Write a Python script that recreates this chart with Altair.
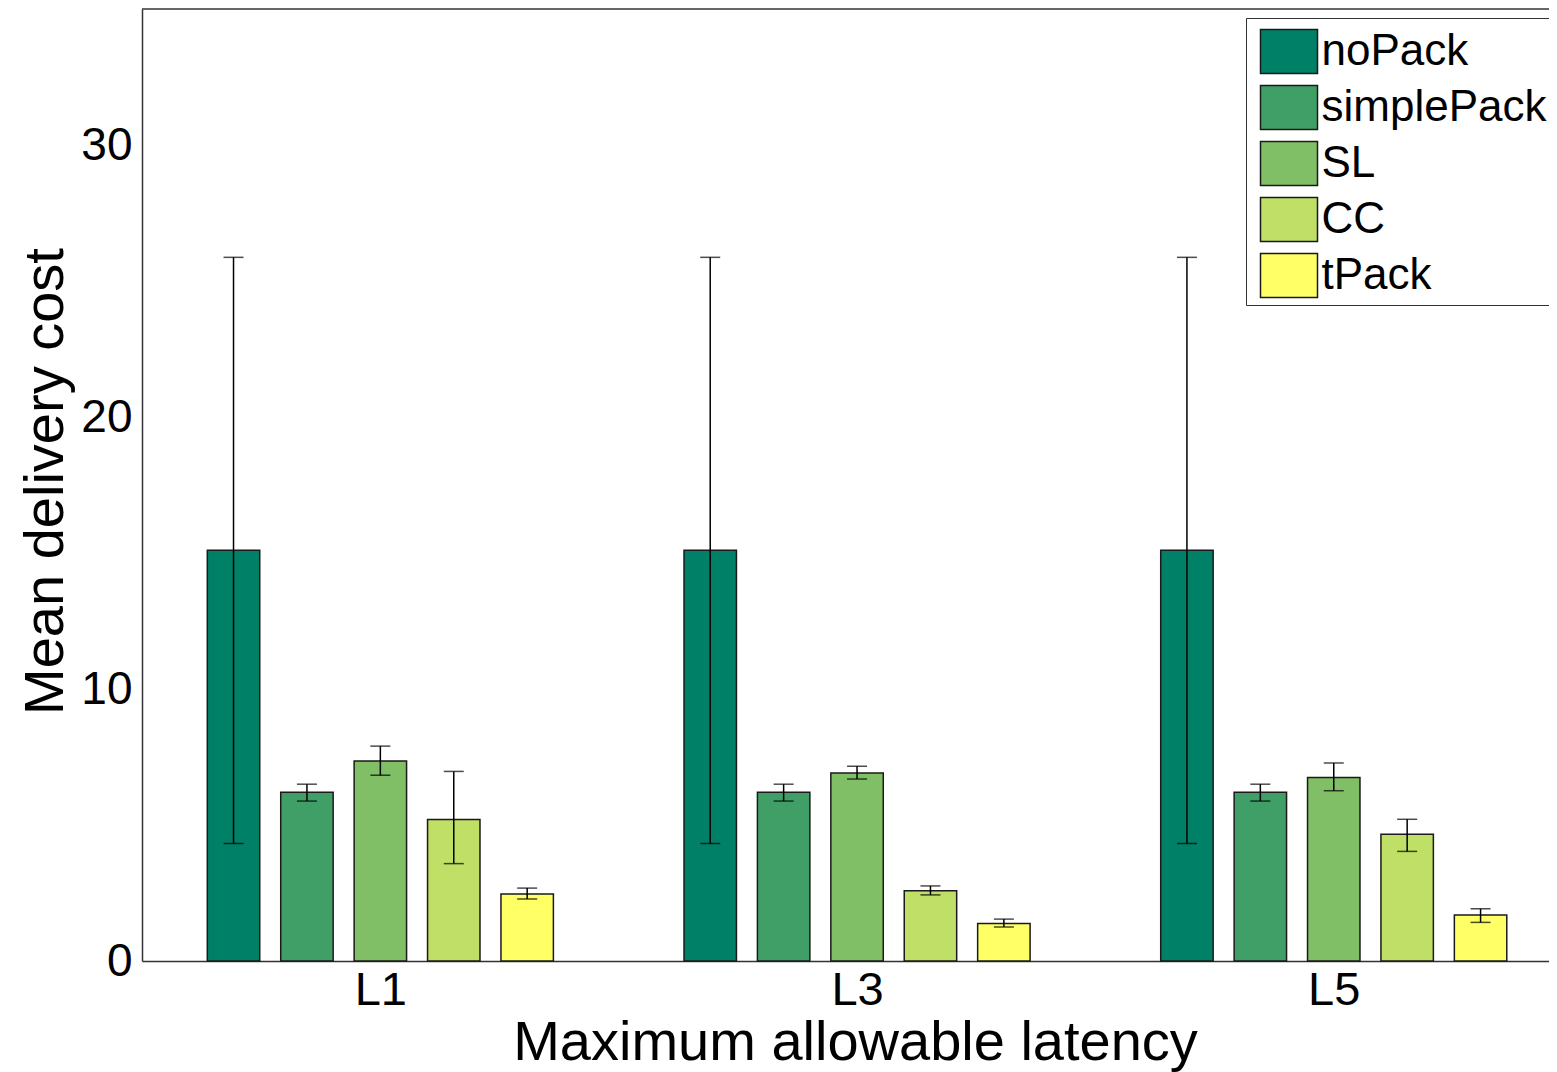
import altair as alt
import pandas as pd

groups = ["L1", "L3", "L5"]
series = ["noPack", "simplePack", "SL", "CC", "tPack"]
colors = ["#008066", "#409F66", "#80BF66", "#BFDF66", "#FFFF66"]

mean_noPack = [15.1, 15.1, 15.1]
mean_simplePack = [6.2, 6.2, 6.2]
mean_SL = [7.35, 6.91, 6.75]
mean_CC = [5.2, 2.58, 4.66]
mean_tPack = [2.46, 1.38, 1.69]

lo_noPack = [4.32, 4.32, 4.32]
lo_simplePack = [5.88, 5.88, 5.88]
lo_SL = [6.83, 6.69, 6.26]
lo_CC = [3.58, 2.43, 4.03]
lo_tPack = [2.28, 1.25, 1.42]

hi_noPack = [25.87, 25.87, 25.87]
hi_simplePack = [6.5, 6.5, 6.5]
hi_SL = [7.90, 7.16, 7.28]
hi_CC = [6.97, 2.76, 5.21]
hi_tPack = [2.68, 1.54, 1.92]

means = [mean_noPack, mean_simplePack, mean_SL, mean_CC, mean_tPack]
los = [lo_noPack, lo_simplePack, lo_SL, lo_CC, lo_tPack]
his = [hi_noPack, hi_simplePack, hi_SL, hi_CC, hi_tPack]

# layout parameters (data units of the group axis)
BAR_PITCH = 0.154
BAR_HALF = 0.055

rows = []
for si, s in enumerate(series):
    for gi, g in enumerate(groups):
        pos = (gi + 1) + (si - 2) * BAR_PITCH
        rows.append(dict(group=g, series=s, order=si, pos=pos,
                         left=pos - BAR_HALF, right=pos + BAR_HALF,
                         mean=means[si][gi], lo=los[si][gi], hi=his[si][gi]))
df = pd.DataFrame(rows)

W, H = 1407, 952
FONT = "Liberation Sans"

label_expr = " : ".join(
    [f"datum.value == {i + 1} ? '{g}'" for i, g in enumerate(groups)]) + " : ''"

xscale = alt.Scale(domain=[0.5, 0.5 + W / 476.7], nice=False, zero=False)
yscale = alt.Scale(domain=[0, 35], nice=False)

base = alt.Chart(df)

bars = base.mark_bar(stroke="#1a1a1a", strokeWidth=1.5).encode(
    x=alt.X("left:Q", scale=xscale,
            axis=alt.Axis(values=[1, 2, 3], labelExpr=label_expr, ticks=False,
                          grid=False, labelFontSize=47, labelPadding=6,
                          labelColor="#000", domainColor="#333", domainWidth=1.5,
                          title="Maximum allowable latency", titleFontSize=56,
                          titleFontWeight="normal", titleColor="#000",
                          titleX=713, titleY=98, titleBaseline="alphabetic",
                          titleAlign="center")),
    x2="right:Q",
    y=alt.Y("mean:Q", scale=yscale,
            axis=alt.Axis(values=[0, 10, 20, 30], ticks=False, grid=False,
                          labelFontSize=46, labelPadding=10, labelColor="#000",
                          domainColor="#333", domainWidth=1.5,
                          title="Mean delivery cost", titleFontSize=56,
                          titleFontWeight="normal", titleColor="#000",
                          titleAngle=-90, titleX=-80, titleY=472,
                          titleBaseline="alphabetic", titleAlign="center")),
    y2=alt.Y2(datum=0),
    color=alt.Color("series:N", scale=alt.Scale(domain=series, range=colors),
                    sort=series,
                    legend=alt.Legend(title=None, orient="none", legendX=1104,
                                      legendY=9, direction="vertical",
                                      symbolType="M-1,-0.772H1V0.772H-1Z",
                                      symbolSize=3249, symbolStrokeColor="#1a1a1a",
                                      symbolStrokeWidth=1.5, symbolOpacity=1,
                                      symbolOffset=9.5,
                                      labelFontSize=44, labelLimit=500,
                                      labelOffset=3, labelColor="#000",
                                      rowPadding=1, padding=4,
                                      strokeColor="#333", fillColor="#fff")),
)

rules = base.mark_rule(color="#000", strokeWidth=1.5).encode(
    x=alt.X("pos:Q", scale=xscale),
    y=alt.Y("lo:Q", scale=yscale),
    y2="hi:Q",
)

caps_lo = base.mark_tick(color="#000", orient="horizontal", size=20,
                         thickness=1.5).encode(
    x=alt.X("pos:Q", scale=xscale), y=alt.Y("lo:Q", scale=yscale))
caps_hi = base.mark_tick(color="#000", orient="horizontal", size=20,
                         thickness=1.5).encode(
    x=alt.X("pos:Q", scale=xscale), y=alt.Y("hi:Q", scale=yscale))

top_border = alt.Chart(pd.DataFrame({"k": [0]})).mark_rule(
    color="#333", strokeWidth=1.5).encode(
    y=alt.value(0), x=alt.value(0), x2=alt.value(W))

chart = alt.layer(bars, rules, caps_lo, caps_hi, top_border).properties(
    width=W, height=H,
    autosize=alt.AutoSizeParams(type="none"),
    padding={"left": 134, "top": 1, "right": 0, "bottom": 111},
).configure(font=FONT).configure_view(stroke=None)

chart.save("out.html", embed_options={"renderer": "svg", "actions": False})
